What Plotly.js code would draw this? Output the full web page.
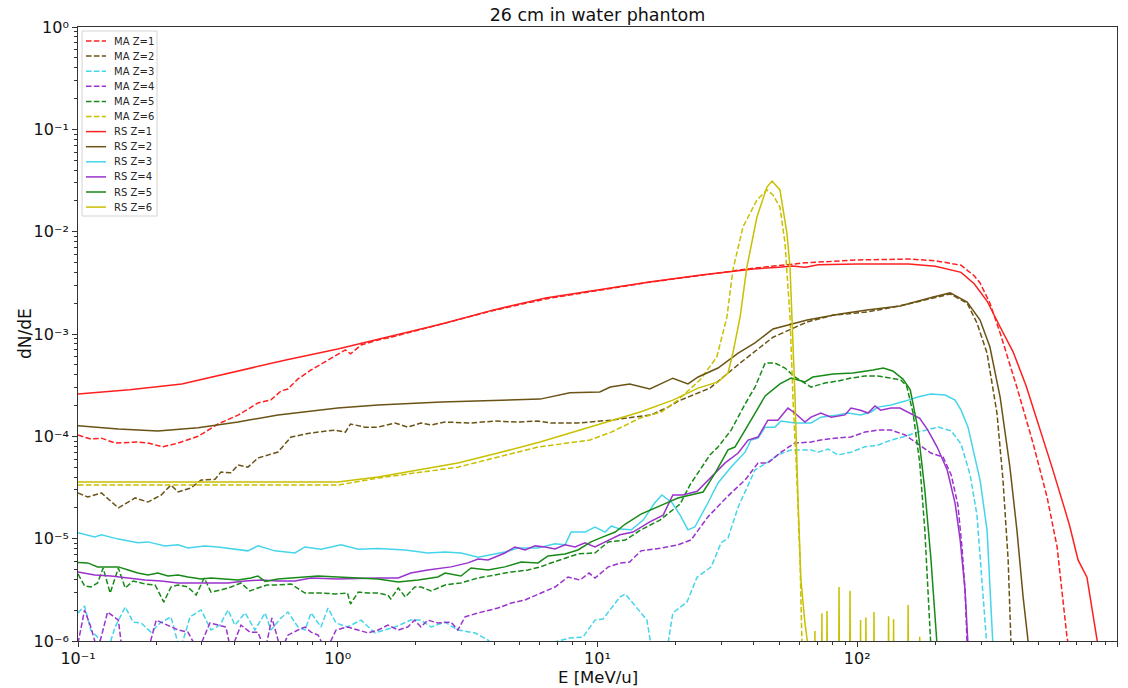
<!DOCTYPE html>
<html>
<head>
<meta charset="utf-8">
<script src="https://cdn.plot.ly/plotly-3.0.1.min.js"></script>
<style>
html,body{margin:0;padding:0;background:#ffffff;}
#chart{width:1128px;height:688px;}
</style>
</head>
<body>
<div id="chart"></div>
<script>
// ---------------- data (E in MeV/u, dN/dE) ----------------
const E_MA1 = [0.1, 0.112, 0.123, 0.139, 0.170, 0.186, 0.212, 0.243, 0.290, 0.346, 0.413, 0.493, 0.553, 0.605, 0.643, 0.703, 0.789, 0.862, 0.917, 1.03, 1.07, 1.12, 1.23, 1.43, 1.58, 2.51, 3.98, 6.31, 10, 15.8, 25.1, 39.8, 63.1, 100, 158, 200, 251, 282, 297, 324, 355, 412, 475, 538, 588, 642, 671];
const Y_MA1 = [1.03e-4, 0.94e-4, 0.96e-4, 0.86e-4, 0.88e-4, 0.86e-4, 0.79e-4, 0.86e-4, 1.0e-4, 1.32e-4, 1.61e-4, 2.12e-4, 2.27e-4, 2.78e-4, 2.9e-4, 3.64e-4, 4.45e-4, 5.1e-4, 5.6e-4, 6.67e-4, 7.0e-4, 6.4e-4, 7.8e-4, 8.75e-4, 9.2e-4, 1.25e-3, 1.7e-3, 2.2e-3, 2.65e-3, 3.2e-3, 3.75e-3, 4.4e-3, 4.96e-3, 5.29e-3, 5.4e-3, 5.2e-3, 4.7e-3, 3.7e-3, 3.15e-3, 2.01e-3, 1.02e-3, 3.0e-4, 8.6e-5, 2.55e-5, 8.3e-6, 1.09e-6, 6e-7];

const E_MA2 = [0.1, 0.109, 0.123, 0.143, 0.166, 0.186, 0.209, 0.228, 0.243, 0.272, 0.298, 0.337, 0.355, 0.388, 0.413, 0.451, 0.493, 0.589, 0.661, 0.789, 0.976, 1.07, 1.12, 1.27, 1.43, 1.66, 1.86, 2.09, 2.29, 2.59, 3.26, 4.03, 4.94, 5.90, 6.62, 8.41, 11.3, 13.9, 16.1, 18.7, 20.4, 27.1, 35.4, 47.4, 64.1, 80.7, 109, 146, 196, 228, 265, 289, 316, 345, 364, 381, 391];
const Y_MA2 = [2.8e-5, 2.55e-5, 2.8e-5, 2.0e-5, 2.5e-5, 2.28e-5, 2.67e-5, 3.34e-5, 2.86e-5, 3.13e-5, 3.74e-5, 3.8e-5, 4.48e-5, 4.4e-5, 5.24e-5, 5.0e-5, 6.14e-5, 7.03e-5, 9.84e-5, 1.08e-4, 1.15e-4, 1.1e-4, 1.32e-4, 1.23e-4, 1.23e-4, 1.35e-4, 1.23e-4, 1.35e-4, 1.29e-4, 1.38e-4, 1.35e-4, 1.41e-4, 1.38e-4, 1.41e-4, 1.35e-4, 1.35e-4, 1.44e-4, 1.54e-4, 1.62e-4, 1.93e-4, 2.2e-4, 2.96e-4, 5.2e-4, 9.3e-4, 1.31e-3, 1.53e-3, 1.64e-3, 1.88e-3, 2.25e-3, 2.46e-3, 2.0e-3, 1.28e-3, 6.5e-4, 1.69e-4, 3.74e-5, 6.2e-6, 9e-7];

const E_MA3 = [0.1, 0.106, 0.112, 0.119, 0.130, 0.139, 0.152, 0.163, 0.175, 0.191, 0.207, 0.228, 0.247, 0.270, 0.298, 0.325, 0.352, 0.378, 0.402, 0.440, 0.480, 0.525, 0.553, 0.605, 0.643, 0.703, 0.748, 0.789, 0.862, 0.917, 0.985, 1.09, 1.23, 1.39, 1.66, 1.91, 2.09, 2.29, 2.59, 2.90, 3.38, 3.79, 4.25, 6.01, 7.83, 8.79, 9.78, 10.5, 12.2, 12.8, 15.5, 16.2, 18.5, 19.5, 22.1, 24.2, 27.4, 29.9, 31.8, 34.8, 40.4, 45.3, 49.5, 55.6, 66.4, 70.6, 77.2, 84.3, 94.6, 107, 120, 135, 153, 171, 205, 230, 251, 272, 289, 305, 316];
const Y_MA3 = [1.88e-6, 2.2e-6, 1.28e-6, 1.09e-6, 8e-7, 1.37e-6, 2.15e-6, 1.53e-6, 1.5e-6, 1.22e-6, 1.5e-6, 1.72e-6, 8e-7, 1.72e-6, 2.01e-6, 1.28e-6, 1.43e-6, 2.01e-6, 1.43e-6, 1.88e-6, 1.28e-6, 1.88e-6, 1.28e-6, 1.68e-6, 1.92e-6, 1.37e-6, 1.28e-6, 1.88e-6, 1.37e-6, 2.1e-6, 1.5e-6, 1.37e-6, 1.6e-6, 1.2e-6, 1.37e-6, 1.6e-6, 1.6e-6, 1.37e-6, 1.53e-6, 1.28e-6, 1.2e-6, 1.02e-6, 8e-7, 9e-7, 1.07e-6, 1.09e-6, 1.6e-6, 1.64e-6, 2.69e-6, 2.88e-6, 1.6e-6, 8e-7, 8e-7, 1.88e-6, 2.4e-6, 4.22e-6, 5.3e-6, 9.1e-6, 1.01e-5, 2.04e-5, 4.69e-5, 5.6e-5, 6.58e-5, 7.37e-5, 7.37e-5, 7.0e-5, 7.5e-5, 6.58e-5, 7.0e-5, 7.9e-5, 8.2e-5, 9.2e-5, 1.0e-4, 1.1e-4, 1.23e-4, 1.13e-4, 8.4e-5, 4.2e-5, 1.7e-5, 2.69e-6, 8.5e-7];

const E_MA4 = [0.1, 0.106, 0.112, 0.119, 0.130, 0.143, 0.148, 0.186, 0.200, 0.222, 0.243, 0.265, 0.290, 0.322, 0.346, 0.371, 0.388, 0.424, 0.459, 0.493, 0.525, 0.558, 0.605, 0.643, 0.703, 0.748, 0.789, 0.840, 0.901, 0.985, 1.09, 1.31, 1.43, 1.56, 1.71, 1.86, 1.98, 2.09, 2.22, 2.43, 2.73, 2.90, 3.09, 3.47, 4.14, 4.65, 5.26, 6.01, 6.86, 7.70, 8.56, 9.28, 9.78, 11.0, 12.2, 13.3, 14.7, 17.6, 20.4, 22.9, 26.6, 29.9, 32.7, 37.0, 41.5, 45.3, 50.9, 57.5, 66.4, 72.4, 82.1, 94.6, 107, 120, 135, 153, 171, 192, 214, 230, 244, 253, 260, 265];
const Y_MA4 = [9.5e-7, 2.01e-6, 1.37e-6, 8e-7, 1.92e-6, 1.6e-6, 8e-7, 8e-7, 1.6e-6, 1.43e-6, 1.28e-6, 1.22e-6, 8e-7, 1.5e-6, 1.43e-6, 1.37e-6, 8e-7, 1.43e-6, 1.22e-6, 1.22e-6, 8e-7, 1.68e-6, 8e-7, 1.14e-6, 1.28e-6, 1.37e-6, 1.22e-6, 1.14e-6, 8e-7, 1.28e-6, 1.37e-6, 1.2e-6, 1.28e-6, 1.43e-6, 1.28e-6, 1.37e-6, 1.6e-6, 1.37e-6, 1.6e-6, 1.5e-6, 1.53e-6, 1.28e-6, 1.72e-6, 1.88e-6, 2.1e-6, 2.35e-6, 2.52e-6, 2.94e-6, 3.37e-6, 4.22e-6, 3.94e-6, 4.61e-6, 4.12e-6, 5.3e-6, 5.78e-6, 5.92e-6, 7.6e-6, 8.1e-6, 8.7e-6, 9.7e-6, 1.63e-5, 2.23e-5, 2.8e-5, 3.74e-5, 5.5e-5, 5.5e-5, 7.0e-5, 8.6e-5, 8.8e-5, 9.2e-5, 9.6e-5, 9.85e-5, 1.1e-4, 1.15e-4, 1.15e-4, 1.03e-4, 8.4e-5, 6.87e-5, 6.28e-5, 4.2e-5, 2.14e-5, 8.3e-6, 3.15e-6, 9e-7];

const E_MA5 = [0.1, 0.106, 0.112, 0.119, 0.125, 0.133, 0.143, 0.152, 0.163, 0.181, 0.198, 0.214, 0.228, 0.243, 0.265, 0.285, 0.306, 0.325, 0.355, 0.388, 0.424, 0.459, 0.493, 0.534, 0.589, 0.661, 0.748, 0.877, 0.976, 1.09, 1.12, 1.20, 1.31, 1.43, 1.56, 1.60, 1.71, 1.82, 1.98, 2.09, 2.29, 2.59, 2.98, 3.47, 4.03, 4.65, 5.40, 6.01, 6.62, 7.50, 8.41, 9.78, 11.0, 12.8, 14.7, 17.4, 19.0, 20.8, 22.7, 24.8, 27.1, 29.1, 32.7, 37.0, 40.4, 44.2, 48.2, 52.7, 57.5, 66.4, 75.1, 84.3, 94.6, 107, 120, 135, 147, 155, 164, 174, 182, 192];
const Y_MA5 = [4.52e-6, 3.45e-6, 3.37e-6, 3.69e-6, 5.17e-6, 2.94e-6, 5.17e-6, 3.3e-6, 3.86e-6, 3.61e-6, 3.53e-6, 2.4e-6, 3.37e-6, 3.53e-6, 3.37e-6, 2.81e-6, 4.13e-6, 3.01e-6, 3.15e-6, 3.37e-6, 3.69e-6, 3.08e-6, 3.3e-6, 3.53e-6, 3.53e-6, 3.61e-6, 2.94e-6, 2.94e-6, 2.88e-6, 2.94e-6, 2.3e-6, 3.01e-6, 2.94e-6, 2.94e-6, 2.81e-6, 2.57e-6, 3.3e-6, 2.69e-6, 3.37e-6, 3.37e-6, 3.08e-6, 3.53e-6, 3.69e-6, 4.13e-6, 4.42e-6, 4.73e-6, 4.94e-6, 5.3e-6, 5.79e-6, 6.47e-6, 7.1e-6, 7.25e-6, 9.3e-6, 9.7e-6, 1.22e-5, 1.52e-5, 1.82e-5, 2.18e-5, 3.35e-5, 4.69e-5, 6.58e-5, 7.86e-5, 1.15e-4, 2.07e-4, 3.03e-4, 5.2e-4, 5.2e-4, 4.65e-4, 3.8e-4, 3.03e-4, 3.32e-4, 3.47e-4, 3.71e-4, 3.88e-4, 3.88e-4, 3.71e-4, 3.55e-4, 3.1e-4, 1.69e-4, 5.5e-5, 1.22e-5, 9e-7];

const E_MA6 = [0.1, 1.0, 1.43, 2.90, 5.90, 9.35, 11.3, 14.6, 17.6, 20.4, 24.8, 28.8, 31.5, 33.2, 36.3, 41.1, 44.9, 47.4, 50.4, 52.7, 55.1, 56.6, 58.6, 60.2, 61.3];
const Y_MA6 = [3.34e-5, 3.34e-5, 3.91e-5, 5.0e-5, 7.86e-5, 9.2e-5, 1.1e-4, 1.51e-4, 1.73e-4, 2.26e-4, 3.55e-4, 5.96e-4, 1.47e-3, 4.22e-3, 1.11e-2, 2.04e-2, 2.56e-2, 2.28e-2, 1.74e-2, 7.75e-3, 1.47e-3, 2.26e-4, 3.74e-5, 6.2e-6, 9e-7];

const E_RS1 = [0.1, 0.158, 0.251, 0.398, 0.631, 1.0, 1.58, 2.51, 3.98, 6.31, 10, 15.8, 25.1, 39.8, 50.1, 56.2, 63.1, 70.8, 100, 158, 200, 251, 282, 316, 355, 398, 447, 501, 562, 631, 659, 708, 766, 845];
const Y_RS1 = [2.59e-4, 2.85e-4, 3.25e-4, 4.25e-4, 5.57e-4, 7.13e-4, 9.35e-4, 1.25e-3, 1.72e-3, 2.25e-3, 2.69e-3, 3.22e-3, 3.77e-3, 4.32e-3, 4.5e-3, 4.62e-3, 4.5e-3, 4.75e-3, 4.84e-3, 4.84e-3, 4.6e-3, 4.0e-3, 3.1e-3, 2.1e-3, 1.17e-3, 6.7e-4, 3.1e-4, 1.26e-4, 5.0e-5, 1.9e-5, 1.3e-5, 6.2e-6, 4.2e-6, 9e-7];

const E_RS2 = [0.1, 0.143, 0.203, 0.290, 0.413, 0.589, 1.0, 1.43, 2.51, 4.40, 6.01, 7.83, 10.2, 11.2, 13.3, 15.9, 19.5, 22.3, 24.4, 29.1, 34.8, 40.4, 47.4, 64.1, 85.8, 109, 146, 196, 228, 265, 297, 324, 355, 387, 412, 435, 454, 471];
const Y_RS2 = [1.27e-4, 1.18e-4, 1.13e-4, 1.21e-4, 1.38e-4, 1.62e-4, 1.89e-4, 2.02e-4, 2.16e-4, 2.26e-4, 2.31e-4, 2.66e-4, 2.71e-4, 3.03e-4, 3.24e-4, 2.9e-4, 3.7e-4, 3.25e-4, 3.8e-4, 4.65e-4, 6.5e-4, 8.2e-4, 1.12e-3, 1.37e-3, 1.57e-3, 1.72e-3, 1.88e-3, 2.3e-3, 2.52e-3, 2.05e-3, 1.37e-3, 7.5e-4, 2.4e-4, 5e-5, 1.2e-5, 2.7e-6, 1.03e-6, 6e-7];

const E_RS3 = [0.1, 0.116, 0.123, 0.143, 0.170, 0.186, 0.216, 0.243, 0.265, 0.308, 0.346, 0.413, 0.451, 0.493, 0.573, 0.684, 0.748, 0.862, 1.03, 1.20, 1.43, 1.82, 2.22, 2.59, 2.98, 3.47, 4.40, 4.94, 5.90, 6.86, 7.50, 7.91, 8.95, 9.78, 10.7, 11.3, 12.2, 13.5, 15.0, 16.6, 17.7, 19.4, 20.8, 22.3, 23.7, 26.6, 29.1, 32.7, 37.0, 39.0, 41.5, 44.2, 48.2, 50.9, 57.5, 66.4, 72.4, 84.3, 92.1, 103, 113, 120, 135, 153, 171, 192, 218, 238, 251, 267, 284, 297, 316, 333];
const Y_RS3 = [1.14e-5, 1.04e-5, 1.09e-5, 0.99e-5, 0.91e-5, 0.93e-5, 0.85e-5, 0.87e-5, 0.81e-5, 0.85e-5, 0.83e-5, 0.79e-5, 0.76e-5, 0.85e-5, 0.76e-5, 0.725e-5, 0.83e-5, 0.79e-5, 0.87e-5, 0.79e-5, 0.80e-5, 0.775e-5, 0.725e-5, 0.74e-5, 0.725e-5, 0.66e-5, 0.74e-5, 0.81e-5, 0.81e-5, 0.89e-5, 0.87e-5, 1.16e-5, 1.16e-5, 1.3e-5, 1.16e-5, 1.33e-5, 1.24e-5, 1.22e-5, 1.52e-5, 2.23e-5, 2.67e-5, 2.23e-5, 1.7e-5, 1.22e-5, 1.3e-5, 2.23e-5, 3.5e-5, 5.02e-5, 7.0e-5, 9.2e-5, 9.6e-5, 1.23e-4, 1.23e-4, 1.41e-4, 1.35e-4, 1.35e-4, 1.54e-4, 1.62e-4, 1.69e-4, 1.62e-4, 1.73e-4, 1.93e-4, 2.02e-4, 2.21e-4, 2.42e-4, 2.59e-4, 2.53e-4, 2.26e-4, 1.8e-4, 1.23e-4, 6.3e-5, 3.74e-5, 1.22e-5, 9e-7];

const E_RS4 = [0.1, 0.116, 0.134, 0.156, 0.181, 0.209, 0.243, 0.282, 0.325, 0.378, 0.440, 0.506, 0.589, 0.684, 0.789, 1.0, 1.43, 1.71, 1.91, 2.22, 2.73, 3.17, 3.47, 3.79, 4.40, 4.81, 5.26, 5.75, 6.28, 6.86, 7.50, 8.19, 8.95, 9.78, 10.9, 12.2, 13.7, 15.9, 17.9, 19.5, 21.3, 24.2, 27.4, 31.0, 34.8, 38.0, 41.5, 45.3, 49.5, 54.1, 57.5, 62.9, 66.4, 72.4, 79.3, 89.7, 94.6, 103, 110, 117, 123, 135, 146, 164, 174, 187, 203, 222, 238, 249, 260, 267];
const Y_RS4 = [4.72e-6, 4.42e-6, 4.32e-6, 4.13e-6, 3.95e-6, 3.86e-6, 3.69e-6, 3.69e-6, 3.69e-6, 3.69e-6, 3.86e-6, 3.95e-6, 3.86e-6, 3.86e-6, 4.13e-6, 4.04e-6, 4.13e-6, 4.13e-6, 4.62e-6, 4.94e-6, 5.3e-6, 5.8e-6, 6.33e-6, 6.19e-6, 7.25e-6, 8.3e-6, 7.75e-6, 8.5e-6, 8.3e-6, 7.93e-6, 8.7e-6, 8.3e-6, 9.1e-6, 8.3e-6, 9.5e-6, 1.09e-5, 1.16e-5, 1.46e-5, 1.7e-5, 2.67e-5, 2.67e-5, 2.9e-5, 4.0e-5, 5.5e-5, 6.87e-5, 9.2e-5, 9.85e-5, 1.44e-4, 1.44e-4, 1.89e-4, 1.69e-4, 1.38e-4, 1.54e-4, 1.69e-4, 1.54e-4, 1.62e-4, 1.89e-4, 1.8e-4, 1.69e-4, 1.98e-4, 1.8e-4, 1.89e-4, 1.89e-4, 1.62e-4, 1.5e-4, 1.15e-4, 7.86e-5, 4.69e-5, 2.23e-5, 9.7e-6, 3.15e-6, 9e-7];

const E_RS5 = [0.1, 0.109, 0.119, 0.143, 0.156, 0.170, 0.186, 0.203, 0.222, 0.243, 0.265, 0.298, 0.325, 0.368, 0.413, 0.463, 0.493, 0.525, 0.589, 0.661, 0.748, 0.840, 1.0, 1.43, 1.71, 2.04, 2.43, 2.59, 2.98, 3.26, 3.79, 4.40, 5.08, 5.90, 6.45, 7.50, 8.41, 9.44, 10.5, 11.7, 12.8, 14.7, 17.4, 20.4, 25.5, 28.4, 31.8, 33.8, 37.0, 44.2, 50.4, 55.6, 62.9, 67.5, 80.7, 96.3, 115, 126, 137, 150, 160, 171, 182, 192, 203];
const Y_RS5 = [5.85e-6, 5.8e-6, 5.3e-6, 5.3e-6, 4.94e-6, 4.62e-6, 4.42e-6, 4.62e-6, 4.32e-6, 4.42e-6, 4.22e-6, 4.04e-6, 4.13e-6, 4.04e-6, 3.95e-6, 4.13e-6, 4.32e-6, 3.82e-6, 4.04e-6, 4.13e-6, 4.22e-6, 4.32e-6, 4.22e-6, 4.04e-6, 3.77e-6, 3.95e-6, 4.22e-6, 4.62e-6, 4.32e-6, 5.17e-6, 4.94e-6, 5.3e-6, 5.92e-6, 5.8e-6, 6.77e-6, 7.1e-6, 7.75e-6, 9.3e-6, 1.04e-5, 1.16e-5, 1.39e-5, 1.74e-5, 2.09e-5, 2.5e-5, 2.86e-5, 4.4e-5, 7.37e-5, 7.86e-5, 1.15e-4, 2.48e-4, 3.25e-4, 3.71e-4, 3.4e-4, 3.8e-4, 4.07e-4, 4.16e-4, 4.45e-4, 4.66e-4, 4.35e-4, 3.63e-4, 2.85e-4, 1.2e-4, 3.0e-5, 6.5e-6, 9e-7];

const E_RS6 = [0.1, 1.0, 1.43, 2.04, 2.90, 4.14, 6.01, 7.84, 10.9, 14.6, 19.5, 24.4, 29.1, 31.8, 33.2, 35.4, 37.6, 41.1, 44.9, 47.0, 50.4, 53.6, 55.1, 56.6, 57.6, 59.1, 60.7, 62.9, 64.6, 67.7, 68.7, 69.7, 72.0, 73.1, 74.2, 75.4, 76.5, 77.6, 83.8, 85.1, 86.4, 92.4, 93.8, 95.2, 101.5, 103, 104.5, 106.4, 108, 109.6, 114.3, 116, 117.7, 130, 132, 134, 136, 138, 140, 154.6, 157, 159.4, 171.4, 174, 176.6];
const Y_RS6 = [3.57e-5, 3.57e-5, 4.0e-5, 4.7e-5, 5.48e-5, 6.87e-5, 8.8e-5, 1.08e-4, 1.38e-4, 1.73e-4, 2.26e-4, 2.96e-4, 3.4e-4, 4.16e-4, 6.5e-4, 1.47e-3, 4.52e-3, 1.39e-2, 2.73e-2, 3.12e-2, 2.56e-2, 9.7e-3, 4.5e-3, 6.97e-4, 2.42e-4, 2.55e-5, 3.95e-6, 1.5e-6, 9e-7, 1e-9, 1.25e-6, 1e-9, 1e-9, 1.87e-6, 1e-9, 1e-9, 1.96e-6, 1e-9, 1e-9, 3.37e-6, 1e-9, 1e-9, 3.1e-6, 1e-9, 1e-9, 1.6e-6, 1e-9, 1e-9, 1.7e-6, 1e-9, 1e-9, 1.92e-6, 1e-9, 1e-9, 1.75e-6, 1e-9, 1e-9, 1.63e-6, 1e-9, 1e-9, 2.25e-6, 1e-9, 1e-9, 1.1e-6, 1e-9];

const LABELS = ['MA Z=1', 'MA Z=2', 'MA Z=3', 'MA Z=4', 'MA Z=5', 'MA Z=6',
                'RS Z=1', 'RS Z=2', 'RS Z=3', 'RS Z=4', 'RS Z=5', 'RS Z=6'];
const Z_COLORS = ['#ff1f1f', '#6b5316', '#45d5ea', '#9a32cd', '#178a17', '#c8c000'];
const X_TICKS = [0.1, 1, 10, 100, 1000];
const X_TICKTEXT = ['10\u207B\u00B9', '10\u2070', '10\u00B9', '10\u00B2', '10\u00B3'];
const Y_TICKS = [1e-6, 1e-5, 1e-4, 1e-3, 1e-2, 1e-1, 1];
const Y_TICKTEXT = ['10\u207B\u2076', '10\u207B\u2075', '10\u207B\u2074', '10\u207B\u00B3', '10\u207B\u00B2', '10\u207B\u00B9', '10\u2070'];

const SERIES = [
  {x: E_MA1, y: Y_MA1}, {x: E_MA2, y: Y_MA2}, {x: E_MA3, y: Y_MA3},
  {x: E_MA4, y: Y_MA4}, {x: E_MA5, y: Y_MA5}, {x: E_MA6, y: Y_MA6},
  {x: E_RS1, y: Y_RS1}, {x: E_RS2, y: Y_RS2}, {x: E_RS3, y: Y_RS3},
  {x: E_RS4, y: Y_RS4}, {x: E_RS5, y: Y_RS5}, {x: E_RS6, y: Y_RS6}
];

// ---------------- styling ----------------
const DASH = '5.5px,2.4px';
const FONT = 'DejaVu Sans, Verdana, sans-serif';

const traces = SERIES.map((s, i) => ({
  type: 'scatter', mode: 'lines', name: LABELS[i],
  x: s.x, y: s.y,
  line: {color: Z_COLORS[i % 6], width: 1.5, dash: i < 6 ? DASH : 'solid'},
  hoverinfo: 'skip', showlegend: false
}));

const minorX = [];
for (let d = -1; d < 3; d++) for (let m = 2; m <= 9; m++) minorX.push(m * Math.pow(10, d));
const minorY = [];
for (let d = -6; d < 0; d++) for (let m = 2; m <= 9; m++) minorY.push(m * Math.pow(10, d));

// plot area in pixels
const PL = 78, PR = 1117, PT = 27, PB = 641;
const px2x = p => (p - PL) / (PR - PL);
const py2y = p => (PB - p) / (PB - PT);

// manual legend (matplotlib style, compact)
const shapes = [{
  type: 'rect', xref: 'paper', yref: 'paper', layer: 'above',
  x0: px2x(82), x1: px2x(157), y0: py2y(216), y1: py2y(31),
  line: {color: '#d4d4d4', width: 1}, fillcolor: 'rgba(255,255,255,0.85)'
}];
const annotations = [];
LABELS.forEach((lab, i) => {
  const yy = py2y(41 + 15.1 * i);
  shapes.push({
    type: 'line', xref: 'paper', yref: 'paper', layer: 'above',
    x0: px2x(86), x1: px2x(106), y0: yy, y1: yy,
    line: {color: Z_COLORS[i % 6], width: 1.5, dash: i < 6 ? DASH : 'solid'}
  });
  annotations.push({
    xref: 'paper', yref: 'paper', x: px2x(112), y: yy,
    xanchor: 'left', yanchor: 'middle', showarrow: false,
    text: lab, font: {family: FONT, size: 10, color: '#262626'}
  });
});
// axis titles placed like the reference
annotations.push({
  xref: 'paper', yref: 'paper', x: px2x(25), y: 0.5,
  xanchor: 'center', yanchor: 'middle', showarrow: false, textangle: -90,
  text: 'dN/dE', font: {family: FONT, size: 17, color: '#111'}
});
annotations.push({
  xref: 'paper', yref: 'paper', x: 0.5, y: py2y(677),
  xanchor: 'center', yanchor: 'middle', showarrow: false,
  text: 'E [MeV/u]', font: {family: FONT, size: 16.5, color: '#111'}
});

const axisCommon = {
  type: 'log', showgrid: false, zeroline: false,
  showline: true, linecolor: '#333', linewidth: 1, mirror: true,
  ticks: 'outside', ticklen: 5, tickwidth: 1, tickcolor: '#333',
  tickmode: 'array',
  tickfont: {family: FONT, size: 16, color: '#111'}
};

const layout = {
  width: 1128, height: 688,
  margin: {l: PL, r: 1128 - PR, t: PT, b: 688 - PB, pad: 0},
  paper_bgcolor: '#ffffff', plot_bgcolor: '#ffffff',
  font: {family: FONT, color: '#111'},
  showlegend: false,
  title: {text: '26 cm in water phantom', x: 0.5, xref: 'paper', y: 1 - 15 / 688, yref: 'container',
          xanchor: 'center', yanchor: 'middle', font: {family: FONT, size: 17.5, color: '#111'}},
  xaxis: Object.assign({}, axisCommon, {
    range: [-1, 3], tickvals: X_TICKS, ticktext: X_TICKTEXT, ticklabelstandoff: -2,
    minor: {tickmode: 'array', tickvals: minorX, ticks: 'outside', ticklen: 3, tickwidth: 1, tickcolor: '#333', showgrid: false}
  }),
  yaxis: Object.assign({}, axisCommon, {
    range: [-6, 0], tickvals: Y_TICKS, ticktext: Y_TICKTEXT,
    minor: {tickmode: 'array', tickvals: minorY, ticks: 'outside', ticklen: 3, tickwidth: 1, tickcolor: '#333', showgrid: false}
  }),
  shapes: shapes,
  annotations: annotations
};

Plotly.newPlot('chart', traces, layout, {displayModeBar: false, staticPlot: true});
</script>
</body>
</html>
